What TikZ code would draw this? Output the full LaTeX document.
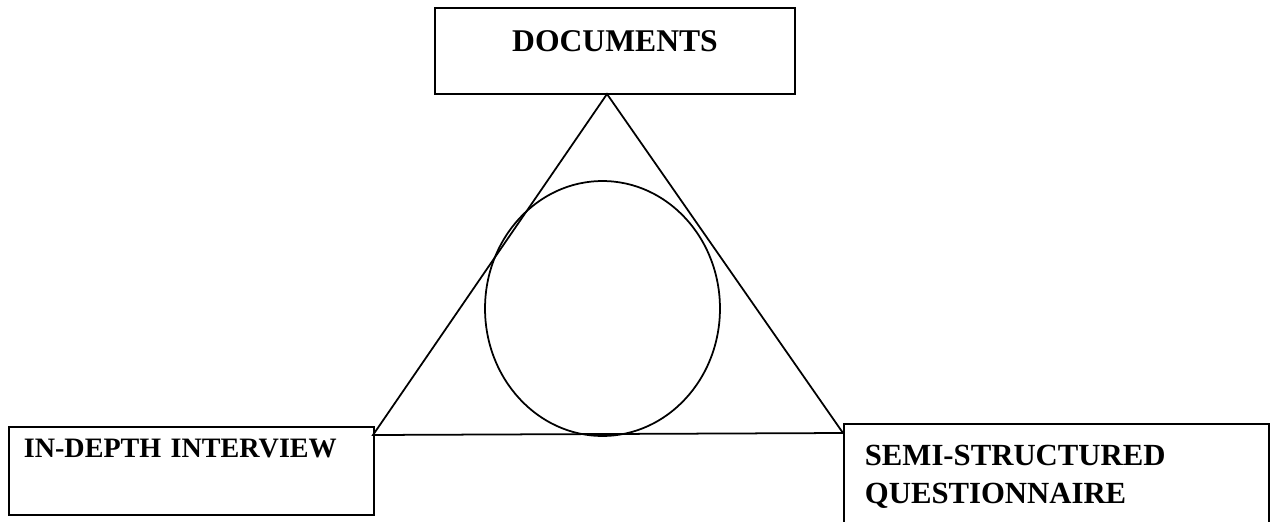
\documentclass[tikz,border=0pt]{standalone}
\usepackage{fontspec}
\setmainfont{Liberation Serif}
\usetikzlibrary{shapes.geometric}

\begin{document}
\begin{tikzpicture}[x=0.02cm,y=-0.02cm,line width=1pt,
  box/.style={draw,rectangle,inner ysep=0pt,align=left},
  core/.style={draw,ellipse,inner sep=0pt,minimum width=4.7cm,minimum height=5.1cm}]
  \useasboundingbox (0,0) rectangle (1272,521);
  \clip (0,0) rectangle (1272,521);
  % the three sources
  \node[box,anchor=base,minimum width=7.2cm,text height=0.86cm,text depth=0.86cm,
        font=\fontsize{18}{22}\selectfont\bfseries] (docs) at (615,51) {DOCUMENTS};
  \node[box,anchor=north west,minimum width=7.3cm,inner xsep=0.3cm,text width=6.7cm,
        text height=0.62cm,text depth=1.14cm,
        font=\fontsize{16}{20}\selectfont\bfseries] (inter) at (8,426) {IN-DEPTH INTERVIEW};
  \node[box,anchor=north west,minimum width=8.5cm,inner xsep=0.42cm,text width=7.66cm,
        text height=0.84cm,text depth=1.4cm,
        font=\fontsize{17.5}{21.6}\selectfont\bfseries] (quest) at (843,423) {SEMI-STRUCTURED\\QUESTIONNAIRE};
  % triangle corners
  \coordinate (apex) at (607,94);
  \coordinate (lv) at (373,435);
  \coordinate (rv) at (843,433);
  \draw (apex) -- (lv) -- (rv) -- cycle;
  % centre
  \node[core] (hub) at (602.5,308.5) {};
\end{tikzpicture}
\end{document}
